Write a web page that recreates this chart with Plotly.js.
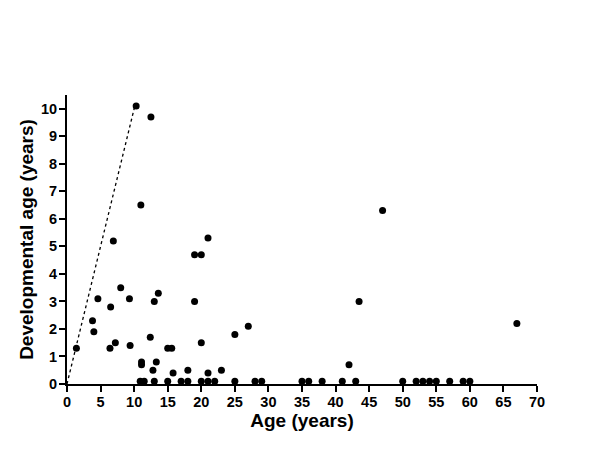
<!DOCTYPE html>
<html>
<head>
<meta charset="utf-8">
<script src="https://cdn.plot.ly/plotly-3.0.1.min.js"></script>
<style>html,body{margin:0;padding:0;background:#fff;}#chart{width:600px;height:450px;}</style>
</head>
<body>
<div id="chart"></div>
<script>
const ages = [1.4,3.8,4.0,4.6,6.5,6.4,7.2,6.9,8.0,9.3,9.4,10.3,11.0,11.1,11.1,10.9,11.5,12.4,12.5,12.8,13.3,13.0,13.6,13.0,15.0,15.6,15.0,15.8,17.0,18.0,18.0,19.0,20.0,19.0,20.0,21.0,20.0,21.0,22.0,21.0,23.0,25.0,27.0,25.0,28.0,29.0,35.0,36.0,38.0,41.0,43.0,42.0,43.5,47.0,50.0,52.0,53.0,54.0,55.0,57.0,59.0,60.0,67.0];
const devAges = [1.3,2.3,1.9,3.1,2.8,1.3,1.5,5.2,3.5,3.1,1.4,10.1,6.5,0.8,0.7,0.1,0.1,1.7,9.7,0.5,0.8,3.0,3.3,0.1,1.3,1.3,0.1,0.4,0.1,0.1,0.5,4.7,4.7,3.0,1.5,5.3,0.1,0.1,0.1,0.4,0.5,1.8,2.1,0.1,0.1,0.1,0.1,0.1,0.1,0.1,0.1,0.7,3.0,6.3,0.1,0.1,0.1,0.1,0.1,0.1,0.1,0.1,2.2];
const identityX = [0, 10.2];
const identityY = [0, 10.2];
const xTicks = [0,5,10,15,20,25,30,35,40,45,50,55,60,65,70];
const yTicks = [0,1,2,3,4,5,6,7,8,9,10];

const bold = {family: 'Liberation Sans, Arial, sans-serif', weight: 'bold', color: '#000'};

const traces = [
  {x: identityX, y: identityY, type: 'scatter', mode: 'lines',
   line: {color: '#000', width: 1.3, dash: 'dot'}, hoverinfo: 'skip', cliponaxis: false},
  {x: ages, y: devAges, type: 'scatter', mode: 'markers',
   marker: {color: '#000', size: 7}, cliponaxis: false}
];

const layout = {
  width: 600, height: 450,
  paper_bgcolor: '#fff', plot_bgcolor: '#fff',
  showlegend: false,
  margin: {l: 67, r: 63, t: 95, b: 66},
  xaxis: {
    range: [0, 70], tickvals: xTicks, ticktext: xTicks.map(String),
    showgrid: false, zeroline: false, showline: true, linecolor: '#000', linewidth: 2,
    ticks: 'outside', ticklen: 6, tickwidth: 2, tickcolor: '#000',
    ticklabelstandoff: -2,
    tickfont: Object.assign({size: 14.5}, bold),
    title: {text: 'Age (years)', font: Object.assign({size: 19}, bold), standoff: 0}
  },
  yaxis: {
    range: [0, 10.5], tickvals: yTicks, ticktext: yTicks.map(String),
    showgrid: false, zeroline: false, showline: true, linecolor: '#000', linewidth: 2,
    ticks: 'outside', ticklen: 6, tickwidth: 2, tickcolor: '#000',
    ticklabelstandoff: -1,
    tickfont: Object.assign({size: 14.5}, bold),
    title: {text: 'Developmental age (years)', font: Object.assign({size: 19}, bold), standoff: 2}
  }
};

Plotly.newPlot('chart', traces, layout, {displayModeBar: false, staticPlot: true});
</script>
</body>
</html>
